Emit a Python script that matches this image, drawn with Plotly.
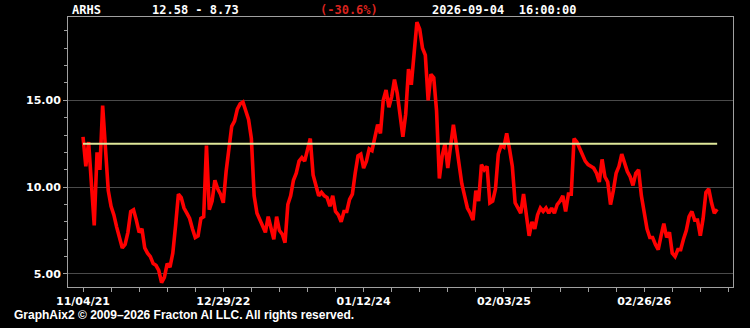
import plotly.graph_objects as go

symbol = "ARHS"
range_text = "12.58 - 8.73"
change_text = "(-30.6%)"
stamp_text = "2026-09-04  16:00:00"
footer_text = "GraphAix2 © 2009–2026 Fracton AI LLC. All rights reserved."

ref_level = 12.5

tick_positions = [0, 50, 100, 150, 200]
tick_labels = ["11/04/21", "12/29/22", "01/12/24", "02/03/25", "02/26/26"]

prices = [
    12.9, 11.2, 12.6, 9.9, 7.8, 12.0, 11.0, 14.7, 12.4, 9.8,
    8.9, 8.4, 7.7, 7.1, 6.5, 6.7, 7.4, 8.6, 8.7, 8.1,
    7.4, 7.6, 6.5, 6.2, 6.0, 5.6, 5.5, 5.2, 4.5, 4.8,
    5.6, 5.4, 6.2, 7.8, 9.6, 9.4, 8.8, 8.5, 8.2, 7.6,
    7.1, 7.2, 8.2, 8.3, 12.4, 8.7, 9.2, 10.4, 9.9, 9.6,
    9.1, 10.9, 12.3, 13.5, 13.8, 14.5, 14.8, 14.9, 14.4, 13.9,
    12.8, 9.5, 8.5, 8.1, 7.7, 7.4, 8.3, 7.7, 7.0, 8.3,
    7.5, 7.3, 6.8, 9.0, 9.5, 10.4, 10.8, 11.5, 11.7, 11.5,
    12.1, 12.8, 10.7, 10.0, 9.5, 9.7, 9.5, 9.4, 8.9, 9.5,
    8.6, 8.4, 8.0, 8.6, 8.6, 9.3, 9.6, 10.8, 11.8, 11.9,
    11.1, 11.5, 12.2, 12.1, 12.8, 13.6, 13.1, 15.0, 15.6, 14.6,
    15.2, 16.2, 15.4, 14.0, 12.9, 14.2, 16.8, 15.9, 18.0, 19.5,
    19.1, 18.0, 17.6, 15.0, 16.5, 16.3, 14.4, 10.5, 11.8, 12.5,
    11.1, 12.4, 13.6, 12.5, 11.3, 10.2, 9.5, 8.8, 8.5, 8.1,
    9.8, 9.2, 11.3, 11.0, 11.2, 9.1, 9.2, 9.9, 11.9, 12.4,
    12.3, 13.1, 12.2, 11.2, 9.1, 8.8, 8.5, 9.6, 8.4, 7.2,
    8.0, 7.6, 8.4, 8.8, 8.6, 8.8, 8.5, 8.8, 8.5, 9.0,
    9.2, 9.5, 8.6, 9.6, 9.6, 12.8, 12.6, 12.2, 11.8, 11.5,
    11.3, 11.2, 11.1, 10.8, 10.3, 11.6, 10.6, 10.3, 9.0, 9.8,
    10.8, 11.2, 11.9, 11.4, 10.9, 10.6, 10.1, 10.8, 11.0, 9.5,
    8.4, 7.6, 7.1, 7.1, 6.7, 6.4, 7.2, 7.9, 7.1, 7.4,
    6.2, 6.0, 6.4, 6.4, 7.0, 7.5, 8.3, 8.6, 8.1, 8.1,
    7.2, 8.2, 9.7, 9.9, 9.1, 8.5, 8.73,
]

x_idx = list(range(len(prices)))

fig = go.Figure()
fig.add_trace(go.Scatter(
    x=x_idx, y=prices, mode="lines",
    line=dict(color="#ff0000", width=3.6),
    hoverinfo="skip", showlegend=False,
))
fig.add_trace(go.Scatter(
    x=[x_idx[0], x_idx[-1]], y=[ref_level, ref_level], mode="lines",
    line=dict(color="#dfe79a", width=2),
    hoverinfo="skip", showlegend=False,
))

W, H = 750, 328
L, R, T, B = 68, 17, 17, 41
pw, ph = W - L - R, H - T - B

def px(x):
    return (x - L) / pw

def py(y):
    return (H - B - y) / ph

mono = dict(family="DejaVu Sans Mono", size=12, color="#ffffff", weight="bold")
anns = [
    dict(text=symbol, x=px(70), y=py(9.5), font=mono),
    dict(text=range_text, x=px(150), y=py(9.5), font=mono),
    dict(text=change_text, x=px(318), y=py(9.5), font=dict(mono, color="#d8231e")),
    dict(text=stamp_text, x=px(430), y=py(9.5), font=mono),
    dict(text=footer_text, x=px(12), y=py(315),
         font=dict(family="Liberation Sans", size=12, color="#ffffff", weight="bold")),
]
for a in anns:
    a.update(xref="paper", yref="paper", xanchor="left", yanchor="middle",
             showarrow=False)

tickfont = dict(family="DejaVu Sans", size=11, color="#ffffff", weight="bold")

fig.update_layout(
    width=W, height=H,
    margin=dict(l=L, r=R, t=T, b=B),
    paper_bgcolor="#000000", plot_bgcolor="#000000",
    annotations=anns,
    xaxis=dict(
        range=[-5.35, 231.65], tickmode="array",
        tickvals=tick_positions, ticktext=tick_labels,
        showgrid=False, zeroline=False,
        showline=True, linecolor="#a0a0a0", linewidth=1, mirror=True,
        ticks="outside", ticklen=4, tickcolor="#a0a0a0",
        tickfont=tickfont,
        minor=dict(dtick=10, tick0=0, ticks="outside", ticklen=4,
                   tickcolor="#a0a0a0", showgrid=False),
    ),
    yaxis=dict(
        range=[4.25, 19.8], tickmode="array",
        tickvals=[5, 10, 15], ticktext=["5.00", "10.00", "15.00"],
        showgrid=True, gridcolor="#4a4a4a", gridwidth=1, zeroline=False,
        showline=True, linecolor="#a0a0a0", linewidth=1, mirror=True,
        ticks="outside", ticklen=4, tickcolor="#a0a0a0",
        tickfont=tickfont,
        minor=dict(dtick=1, tick0=0, ticks="outside", ticklen=3,
                   tickcolor="#a0a0a0", showgrid=False),
    ),
)

fig.write_html("out.html")
